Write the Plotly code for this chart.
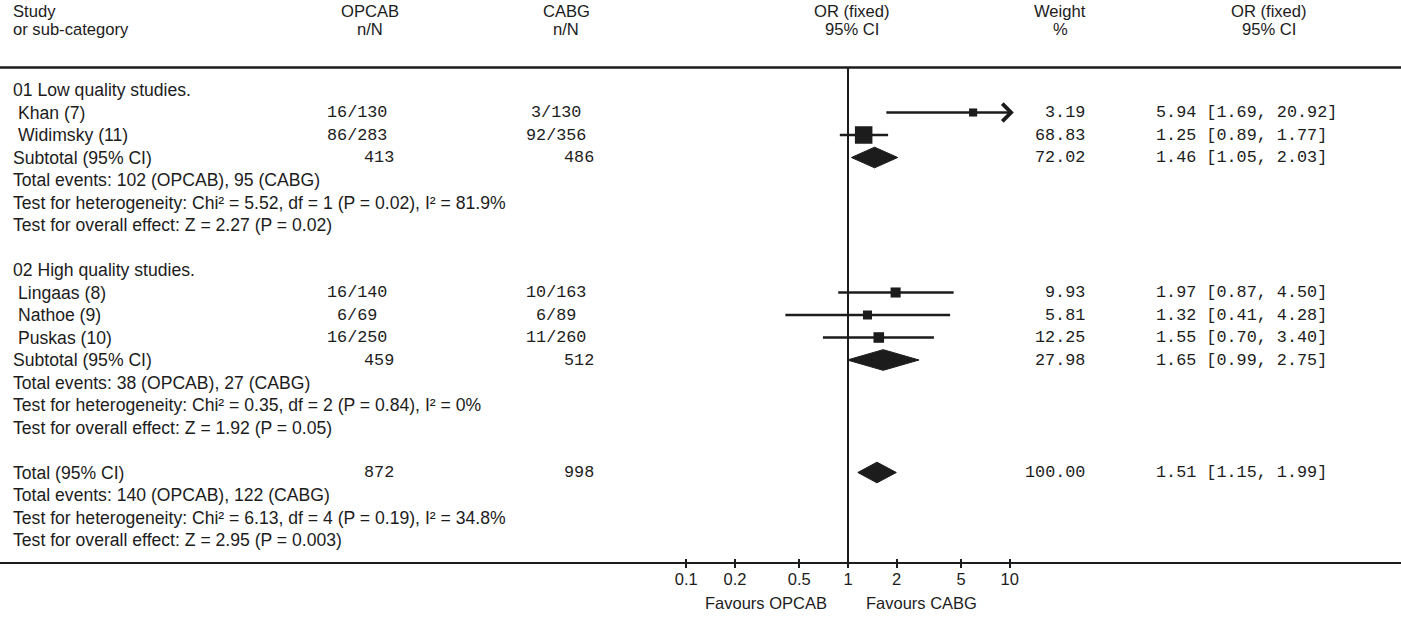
import numpy as np
import plotly.graph_objects as go

# ---------------- data ----------------
group_labels = ["01 Low quality studies.", "02 High quality studies."]
study_names = ["Khan (7)", "Widimsky (11)", "Lingaas (8)", "Nathoe (9)", "Puskas (10)"]
study_group = [0, 0, 1, 1, 1]
opcab_events = [16, 86, 16, 6, 16]
opcab_total = [130, 283, 140, 69, 250]
cabg_events = [3, 92, 10, 6, 11]
cabg_total = [130, 356, 163, 89, 260]
study_weight = [3.19, 68.83, 9.93, 5.81, 12.25]
study_or = [5.94, 1.25, 1.97, 1.32, 1.55]
study_lo = [1.69, 0.89, 0.87, 0.41, 0.70]
study_hi = [20.92, 1.77, 4.50, 4.28, 3.40]

sub_opcab_n = [413, 459]
sub_cabg_n = [486, 512]
sub_weight = [72.02, 27.98]
sub_or = [1.46, 1.65]
sub_lo = [1.05, 0.99]
sub_hi = [2.03, 2.75]
sub_notes = [
    ["Total events: 102 (OPCAB), 95 (CABG)",
     "Test for heterogeneity: Chi² = 5.52, df = 1 (P = 0.02), I² = 81.9%",
     "Test for overall effect: Z = 2.27 (P = 0.02)"],
    ["Total events: 38 (OPCAB), 27 (CABG)",
     "Test for heterogeneity: Chi² = 0.35, df = 2 (P = 0.84), I² = 0%",
     "Test for overall effect: Z = 1.92 (P = 0.05)"],
]

total_opcab_n = 872
total_cabg_n = 998
total_weight = 100.00
total_or = 1.51
total_lo = 1.15
total_hi = 1.99
total_notes = ["Total events: 140 (OPCAB), 122 (CABG)",
               "Test for heterogeneity: Chi² = 6.13, df = 4 (P = 0.19), I² = 34.8%",
               "Test for overall effect: Z = 2.95 (P = 0.003)"]

tick_vals = [0.1, 0.2, 0.5, 1, 2, 5, 10]
tick_text = ["0.1", "0.2", "0.5", "1", "2", "5", "10"]
favours_left = "Favours OPCAB"
favours_right = "Favours CABG"

# ---------------- layout constants ----------------
W, H = 1401, 617
ROW0_PX, ROW_PX = 90.0, 22.5          # pixel of row 0, pixels per row
NULL_PX, DECADE_PX = 848.0, 161.7     # pixel of OR=1, pixels per decade
AXIS_PX = 563.0
INK = "#1c1c1c"
SANS = "Liberation Sans, Arial, sans-serif"
MONO = "Liberation Mono, Courier New, monospace"
FS = 17.6
FH = 16.6
FM = 16.8
ARROW_TIP = 10.6
DIAMOND_H = 0.46
LW = 2.6

X_LABEL, X_STUDY = 12, 17
X_OP_STUDY, X_OP_TOT = 357, 379
X_CA_STUDY, X_CA_TOT = 556, 579
X_WEIGHT, X_CI = 1086, 1155

fig = go.Figure()
ann = []


def txt(xpx, row, s, anchor="left", mono=False, size=None):
    ann.append(dict(x=xpx / W, xref="paper", y=row, yref="y", text=s,
                    showarrow=False, xanchor=anchor, yanchor="middle",
                    borderpad=0,
                    font=dict(family=MONO if mono else SANS,
                              size=size or (FM if mono else FS), color=INK)))


def diamond(row, lo, est, hi):
    fig.add_trace(go.Scatter(x=[lo, est, hi, est, lo],
                             y=[row, row - DIAMOND_H, row, row + DIAMOND_H, row],
                             mode="lines", fill="toself", fillcolor=INK,
                             line=dict(color=INK, width=1), hoverinfo="skip",
                             showlegend=False))


def ci_text(o, l, h):
    return f"{o:.2f} [{l:.2f}, {h:.2f}]"


# headers
hdr1, hdr2 = (11 - ROW0_PX) / ROW_PX, (29 - ROW0_PX) / ROW_PX
txt(X_LABEL, hdr1, "Study", size=FH)
txt(X_LABEL, hdr2, "or sub-category", size=FH)
for xc, a, b in [(370, "OPCAB", "n/N"), (566, "CABG", "n/N"),
                 (852, "OR (fixed)", "95% CI"), (1060, "Weight", "%"),
                 (1269, "OR (fixed)", "95% CI")]:
    txt(xc, hdr1, a, "center", size=FH)
    txt(xc, hdr2, b, "center", size=FH)

# body
row = 0
for g, glabel in enumerate(group_labels):
    txt(X_LABEL, row, glabel)
    row += 1
    for i, name in enumerate(study_names):
        if study_group[i] != g:
            continue
        txt(X_STUDY, row, name)
        txt(X_OP_STUDY, row, f"{opcab_events[i]}/{opcab_total[i]}", "center", True)
        txt(X_CA_STUDY, row, f"{cabg_events[i]}/{cabg_total[i]}", "center", True)
        txt(X_WEIGHT, row, f"{study_weight[i]:.2f}", "right", True)
        txt(X_CI, row, ci_text(study_or[i], study_lo[i], study_hi[i]), "left", True)
        if study_hi[i] > tick_vals[-1]:
            ann.append(dict(x=np.log10(ARROW_TIP), y=row, xref="x", yref="y",
                            ax=np.log10(study_lo[i]), ay=row, axref="x", ayref="y",
                            text="", showarrow=True, arrowhead=4, arrowsize=1.3,
                            arrowwidth=LW, arrowcolor=INK, standoff=0))
        else:
            fig.add_trace(go.Scatter(x=[study_lo[i], study_hi[i]], y=[row, row],
                                     mode="lines", line=dict(color=INK, width=LW),
                                     hoverinfo="skip", showlegend=False))
        fig.add_trace(go.Scatter(x=[study_or[i]], y=[row], mode="markers",
                                 marker=dict(symbol="square", color=INK,
                                             size=5.5 + 1.45 * np.sqrt(study_weight[i]),
                                             line=dict(width=0)),
                                 hoverinfo="skip", showlegend=False))
        row += 1
    txt(X_LABEL, row, "Subtotal (95% CI)")
    txt(X_OP_TOT, row, str(sub_opcab_n[g]), "center", True)
    txt(X_CA_TOT, row, str(sub_cabg_n[g]), "center", True)
    txt(X_WEIGHT, row, f"{sub_weight[g]:.2f}", "right", True)
    txt(X_CI, row, ci_text(sub_or[g], sub_lo[g], sub_hi[g]), "left", True)
    diamond(row, sub_lo[g], sub_or[g], sub_hi[g])
    row += 1
    for note in sub_notes[g]:
        txt(X_LABEL, row, note)
        row += 1
    row += 1

txt(X_LABEL, row, "Total (95% CI)")
txt(X_OP_TOT, row, str(total_opcab_n), "center", True)
txt(X_CA_TOT, row, str(total_cabg_n), "center", True)
txt(X_WEIGHT, row, f"{total_weight:.2f}", "right", True)
txt(X_CI, row, ci_text(total_or, total_lo, total_hi), "left", True)
diamond(row, total_lo, total_or, total_hi)
row += 1
for note in total_notes:
    txt(X_LABEL, row, note)
    row += 1
last_row = row

# line of no effect
fig.add_trace(go.Scatter(x=[1, 1], y=[-1, last_row], mode="lines",
                         line=dict(color=INK, width=2), hoverinfo="skip",
                         showlegend=False))

# favours labels
fav_row = (603 - ROW0_PX) / ROW_PX
txt(766, fav_row, favours_left, "center", size=16.5)
txt(921, fav_row, favours_right, "center", size=16.5)

# header rule
shapes = [dict(type="line", xref="paper", yref="y", x0=0, x1=1, y0=-1, y1=-1,
               line=dict(color=INK, width=2.5))]

xr = [-NULL_PX / DECADE_PX, (W - NULL_PX) / DECADE_PX]
yr = [(H - ROW0_PX) / ROW_PX, -ROW0_PX / ROW_PX]
axis_pos = (H - AXIS_PX) / H

fig.update_layout(
    width=W, height=H, margin=dict(l=0, r=0, t=0, b=0),
    paper_bgcolor="white", plot_bgcolor="white",
    showlegend=False, annotations=ann, shapes=shapes,
    xaxis=dict(type="log", range=xr, domain=[0, 1], anchor="free",
               position=axis_pos, showline=True, linewidth=2.2, linecolor=INK,
               showgrid=False, zeroline=False, tickmode="array",
               tickvals=tick_vals, ticktext=tick_text, ticks="outside",
               ticklen=4, tickwidth=1.8, tickcolor=INK, ticklabelstandoff=-3,
               tickfont=dict(family=SANS, size=16.5, color=INK), fixedrange=True),
    xaxis2=dict(type="log", range=xr, overlaying="x", anchor="free",
                position=axis_pos, showline=False, showgrid=False,
                zeroline=False, tickmode="array", tickvals=tick_vals,
                ticks="inside", ticklen=4, tickwidth=1.8, tickcolor=INK,
                showticklabels=False, side="bottom"),
    yaxis=dict(range=yr, domain=[0, 1], visible=False, fixedrange=True),
)
# invisible trace that activates the overlaid tick axis
fig.add_trace(go.Scatter(x=[1], y=[last_row], xaxis="x2", mode="markers",
                         marker=dict(size=1, color="rgba(0,0,0,0)"),
                         hoverinfo="skip", showlegend=False))

fig.write_html("out.html", config={"displayModeBar": False},
               post_script="document.body.style.margin='0';document.body.style.overflow='hidden';")
